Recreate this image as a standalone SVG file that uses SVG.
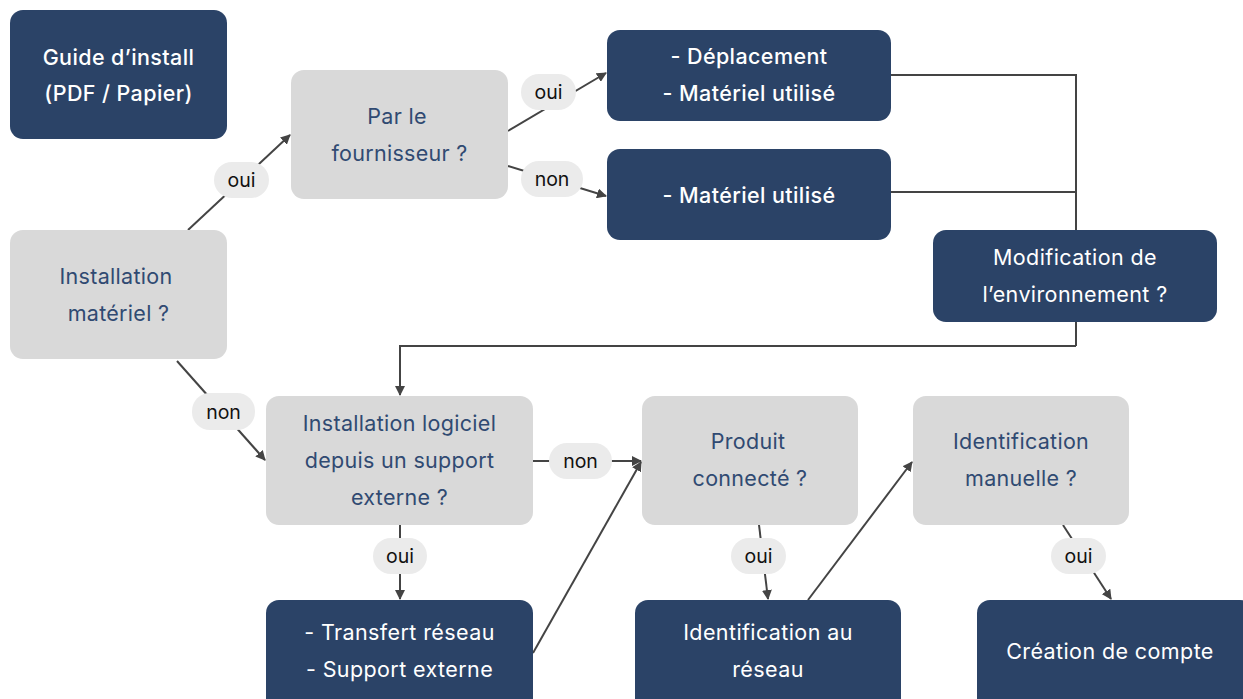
<svg xmlns="http://www.w3.org/2000/svg" width="1243" height="699" viewBox="0 0 1243 699">
<defs>
<marker id="arr" viewBox="0 0 10 10" refX="9" refY="5" markerWidth="5" markerHeight="5" orient="auto" markerUnits="strokeWidth">
<path d="M0,0 L10,5 L0,10 z" fill="#444"/>
</marker>
<style>
.dark{fill:#2B4367}
.gray{fill:#D9D9D9}
.pill{fill:#EBEBEB}
.tw{font-family:Inter,"Liberation Sans",sans-serif;font-size:21.5px;fill:#fff;text-anchor:middle;letter-spacing:0.4px}
.tg{font-family:Inter,"Liberation Sans",sans-serif;font-size:21.5px;fill:#304A72;text-anchor:middle;letter-spacing:0.3px}
.tl{font-family:Inter,"Liberation Sans",sans-serif;font-size:19.5px;fill:#111;text-anchor:middle}
.b{font-weight:500}
.c{stroke:#444;stroke-width:2;fill:none}
.ca{stroke:#444;stroke-width:2;fill:none;marker-end:url(#arr)}
</style>
</defs>
<rect width="1243" height="699" fill="#fff"/>
<g id="connectors">
<line class="ca" x1="188" y1="230" x2="290" y2="135"/>
<line class="ca" x1="508" y1="131" x2="606" y2="73"/>
<line class="ca" x1="508" y1="166" x2="606" y2="196"/>
<polyline class="c" points="891,75 1076,75 1076,346"/>
<line class="c" x1="891" y1="192" x2="1076" y2="192"/>
<polyline class="ca" points="1076,346 400,346 400,395"/>
<line class="ca" x1="177" y1="361" x2="265" y2="460"/>
<line class="ca" x1="533" y1="461" x2="641" y2="461"/>
<line class="ca" x1="533" y1="653" x2="641" y2="462"/>
<line class="ca" x1="400" y1="525" x2="400" y2="599"/>
<line class="ca" x1="759" y1="525" x2="768" y2="599"/>
<line class="ca" x1="808" y1="600" x2="912" y2="462"/>
<line class="ca" x1="1063" y1="525" x2="1111" y2="599"/>
</g>
<g id="labels">
<g id="l1"><rect class="pill" x="214" y="162" width="55" height="36" rx="18"/><text class="tl" x="241.5" y="187">oui</text></g>
<g id="l2"><rect class="pill" x="521" y="74" width="55" height="36" rx="18"/><text class="tl" x="548.5" y="99">oui</text></g>
<g id="l3"><rect class="pill" x="521" y="161" width="62" height="36" rx="18"/><text class="tl" x="552" y="186">non</text></g>
<g id="l4"><rect class="pill" x="192" y="393" width="63" height="37" rx="18"/><text class="tl" x="223.5" y="419">non</text></g>
<g id="l5"><rect class="pill" x="549" y="443" width="63" height="36" rx="18"/><text class="tl" x="580.5" y="468">non</text></g>
<g id="l6"><rect class="pill" x="373" y="538" width="54" height="36" rx="18"/><text class="tl" x="400" y="563">oui</text></g>
<g id="l7"><rect class="pill" x="731" y="538" width="55" height="36" rx="18"/><text class="tl" x="758.5" y="563">oui</text></g>
<g id="l8"><rect class="pill" x="1051" y="538" width="55" height="36" rx="18"/><text class="tl" x="1078.5" y="563">oui</text></g>
</g>
<g id="guide"><rect class="dark" x="10" y="10" width="217" height="129" rx="13"/><text class="tw b" x="118.5" y="65">Guide d’install</text><text class="tw b" x="118.5" y="101">(PDF / Papier)</text></g>
<g id="install-materiel"><rect class="gray" x="10" y="230" width="217" height="129" rx="13"/><text class="tg" x="116" y="284">Installation</text><text class="tg" x="118.5" y="321">matériel ?</text></g>
<g id="fournisseur"><rect class="gray" x="291" y="70" width="217" height="129" rx="13"/><text class="tg" x="397" y="124">Par le</text><text class="tg" x="399.5" y="161">fournisseur ?</text></g>
<g id="deplacement"><rect class="dark" x="607" y="30" width="284" height="91" rx="13"/><text class="tw b" x="749" y="64">- Déplacement</text><text class="tw b" x="749" y="101">- Matériel utilisé</text></g>
<g id="materiel"><rect class="dark" x="607" y="149" width="284" height="91" rx="13"/><text class="tw b" x="749" y="203">- Matériel utilisé</text></g>
<g id="modif"><rect class="dark" x="933" y="230" width="284" height="92" rx="13"/><text class="tw" x="1075" y="265">Modification de</text><text class="tw" x="1075" y="302">l’environnement ?</text></g>
<g id="install-logiciel"><rect class="gray" x="266" y="396" width="267" height="129" rx="13"/><text class="tg" x="399.5" y="431">Installation logiciel</text><text class="tg" x="399.5" y="468">depuis un support</text><text class="tg" x="399.5" y="505">externe ?</text></g>
<g id="produit"><rect class="gray" x="642" y="396" width="216" height="129" rx="13"/><text class="tg" x="748" y="449">Produit</text><text class="tg" x="750" y="486">connecté ?</text></g>
<g id="ident-manuelle"><rect class="gray" x="913" y="396" width="216" height="129" rx="13"/><text class="tg" x="1021" y="449">Identification</text><text class="tg" x="1021" y="486">manuelle ?</text></g>
<g id="transfert"><rect class="dark" x="266" y="600" width="267" height="112" rx="13"/><text class="tw" x="399.5" y="640">- Transfert réseau</text><text class="tw" x="399.5" y="677">- Support externe</text></g>
<g id="ident-reseau"><rect class="dark" x="635" y="600" width="266" height="112" rx="13"/><text class="tw" x="768" y="640">Identification au</text><text class="tw" x="768" y="677">réseau</text></g>
<g id="creation"><rect class="dark" x="977" y="600" width="276" height="112" rx="13"/><text class="tw" x="1110" y="659">Création de compte</text></g>
</svg>
